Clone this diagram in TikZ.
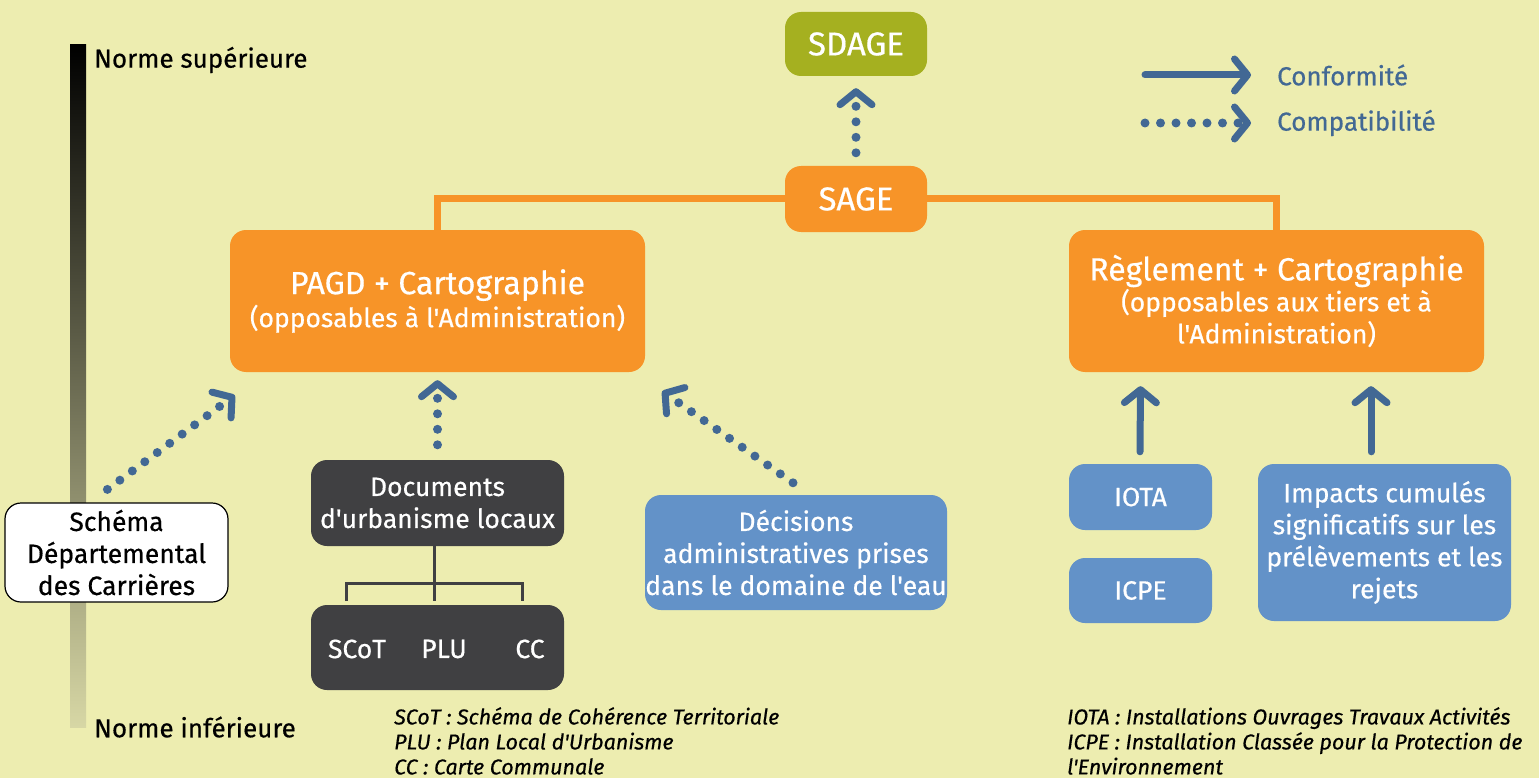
\documentclass[tikz,border=0pt]{standalone}
\usepackage{fontspec}
\setmainfont{Fira Sans}[Ligatures=TeXOff,FakeBold=0.5]
\usetikzlibrary{arrows.meta,calc}
\definecolor{bg}{RGB}{237,237,176}
\definecolor{orng}{RGB}{247,148,40}
\definecolor{olive}{RGB}{165,176,32}
\definecolor{dgrey}{RGB}{64,64,66}
\definecolor{lblue}{RGB}{99,146,200}
\definecolor{ablue}{RGB}{66,104,148}
\definecolor{barlow}{RGB}{215,215,165}
\tikzset{
  box/.style={rounded corners=16pt, inner sep=0pt, align=center, text=white,
    font=\fontsize{26.5}{32}\selectfont},
  tip/.style={-{Straight Barb[round,length=13pt,width=32pt,line width=7pt]}},
  conform/.style={draw=ablue, line width=7pt, line cap=round, tip},
  compat/.style={draw=ablue, line width=9pt, line cap=round, dash pattern=on 0pt off 15.5pt, tip},
  orline/.style={draw=orng, line width=7pt},
  treeline/.style={draw=dgrey, line width=3pt},
  lbl/.style={inner sep=0pt, font=\fontsize{26}{30}\selectfont},
  note/.style={inner sep=0pt, align=left, anchor=north west, font=\fontsize{21.5}{25}\selectfont\itshape}
}
\begin{document}
\begin{tikzpicture}[x=1pt,y=-1pt]
\fill[bg] (0,0) rectangle (1539,778);
\useasboundingbox (0,0) rectangle (1539,778);

% norm scale
\shade[top color=black, bottom color=barlow] (70,45) rectangle (86,727);
\node[lbl, anchor=west] (nsup) at (94,60) {Norme supérieure};
\node[lbl, anchor=west] (ninf) at (94,727) {Norme inférieure};

% top
\node[box, fill=olive, minimum width=142pt, minimum height=64pt, font=\fontsize{33}{36}\selectfont] (sdage) at (856,44) {SDAGE};
\node[box, fill=orng, minimum width=142pt, minimum height=66pt, font=\fontsize{33}{36}\selectfont] (sage) at (856,199) {SAGE};

% main orange boxes
\node[box, fill=orng, minimum width=415pt, minimum height=142pt] (pagd) at (437.5,301)
  {{\fontsize{32}{34}\selectfont PAGD + Cartographie}\\[1pt](opposables à l'Administration)};
\node[box, fill=orng, minimum width=415pt, minimum height=142pt] (regl) at (1276.5,301)
  {{\fontsize{32}{34}\selectfont Règlement + Cartographie}\\[-1pt](opposables aux tiers et à\\l'Administration)};

\draw[orline] (sage.west) -| (pagd.north);
\draw[orline] (sage.east) -| (regl.north);

% left side
\node[box, fill=white, draw=black, line width=1.2pt, text=black, minimum width=223pt, minimum height=99pt] (schema) at (116.5,552.5)
  {Schéma\\Départemental\\des Carrières};
\node[box, fill=dgrey, minimum width=253pt, minimum height=86pt] (docs) at (437.5,503)
  {Documents\\d'urbanisme locaux};
\node[box, fill=dgrey, minimum width=253pt, minimum height=85pt] (scot) at (437.5,647.5) {};
\node[inner sep=0pt, text=white, font=\fontsize{26.5}{30}\selectfont] (tscot) at (357,649) {SCoT};
\node[inner sep=0pt, text=white, font=\fontsize{26.5}{30}\selectfont] (tplu) at (444,649) {PLU};
\node[inner sep=0pt, text=white, font=\fontsize{26.5}{30}\selectfont] (tcc) at (530,649) {CC};
\coordinate (tj) at (434,583);
\draw[treeline] (docs.south -| tj) -- (tj);
\draw[treeline] (346,601) |- (tj) -| (522,601);
\draw[treeline] (tj) -- (434,601);

\node[box, fill=lblue, minimum width=302pt, minimum height=115pt] (deci) at (796,552.5)
  {Décisions\\administratives prises\\dans le domaine de l'eau};

% right side
\node[box, fill=lblue, minimum width=143pt, minimum height=66pt] (iota) at (1140.5,497) {IOTA};
\node[box, fill=lblue, minimum width=143pt, minimum height=65pt] (icpe) at (1140.5,590.5) {ICPE};
\node[box, fill=lblue, minimum width=253pt, minimum height=157pt] (imp) at (1384.5,542.5)
  {Impacts cumulés\\significatifs sur les\\prélèvements et les\\rejets};

% arrows
\draw[compat] ($(sage.north)+(0,-13)$) -- ($(sdage.south)+(0,12)$);
\draw[compat] ($(schema.north west)+(103,-13)$) -- ($(pagd.south west)+(5,23)$);
\draw[compat] ($(docs.north)+(0,-15)$) -- ($(pagd.south)+(0,8)$);
\draw[compat] ($(deci.north)+(-3,-12)$) -- ($(pagd.south east)+(17,19)$);
\draw[conform] ($(iota.north)+(-0.5,-12)$) -- ($(regl.south)+(-136,14)$);
\draw[conform] ($(imp.north)+(-13.5,-12)$) -- ($(regl.south)+(94.5,14)$);

% legend
\coordinate (l1a) at (1145,75);
\coordinate (l1b) at (1251,75);
\coordinate (l2a) at (1145,123);
\coordinate (l2b) at (1251,123);
\draw[conform] (l1a) -- (l1b);
\draw[compat] (l2a) -- (l2b);
\node[lbl, anchor=west, text=ablue] (lconf) at (1277,75) {Conformité};
\node[lbl, anchor=west, text=ablue] (lcomp) at (1277,123) {Compatibilité};

% notes
\node[note] (n1) at (394,707) {SCoT : Schéma de Cohérence Territoriale\\PLU : Plan Local d'Urbanisme\\CC : Carte Communale};
\node[note] (n2) at (1067,707) {IOTA : Installations Ouvrages Travaux Activités\\ICPE : Installation Classée pour la Protection de\\l'Environnement};
\end{tikzpicture}
\end{document}
